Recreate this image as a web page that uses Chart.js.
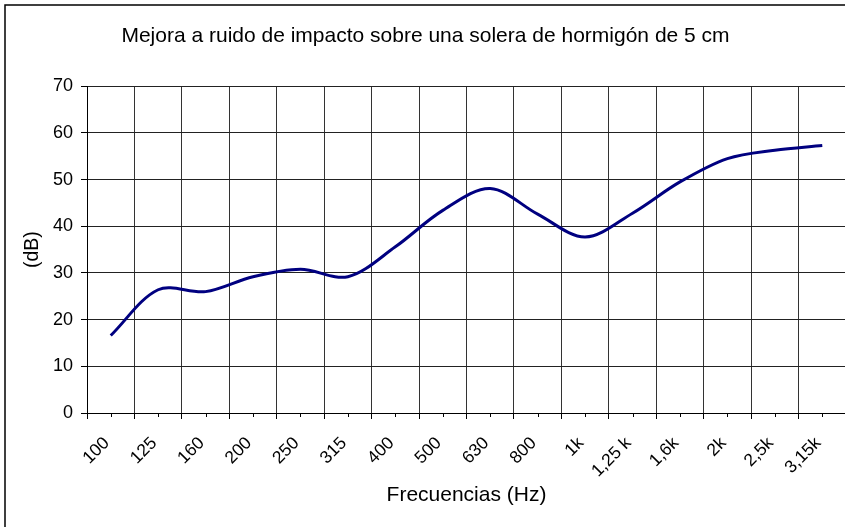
<!DOCTYPE html>
<html>
<head>
<meta charset="utf-8">
<script src="https://cdn.jsdelivr.net/npm/chart.js@4.4.1/dist/chart.umd.min.js"></script>
<style>
  html, body { margin: 0; padding: 0; background: #fff; overflow: hidden; }
  canvas { display: block; }
</style>
</head>
<body>
<canvas id="c" width="900" height="560"></canvas>
<script>
// Frequency bands (third-octave) and measured improvement in dB
const frequencies = ["100", "125", "160", "200", "250", "315", "400", "500", "630", "800",
  "1k", "1,25 k", "1,6k", "2k", "2,5k", "3,15k"];
const improvement = [16.6, 26.4, 26.0, 29.2, 30.8, 29.2, 35.6, 43.4, 48.1, 42.6,
  37.7, 42.8, 49.5, 54.5, 56.3, 57.3];
const yTicks = [0, 10, 20, 30, 40, 50, 60, 70];

const font = "'Liberation Sans', Arial, sans-serif";

// outer frame like the Excel chart area
const frame = {
  id: "frame",
  afterDraw(chart) {
    const ctx = chart.ctx;
    ctx.save();
    ctx.strokeStyle = "#000";
    ctx.lineWidth = 1.5;
    ctx.strokeRect(5, 5, 2000, 2000);
    ctx.restore();
  }
};

// small ticks at the middle of each category
const minorTicks = {
  id: "minorTicks",
  afterDraw(chart) {
    const x = chart.scales.x;
    const ctx = chart.ctx;
    ctx.save();
    ctx.strokeStyle = "#000";
    ctx.lineWidth = 1;
    ctx.beginPath();
    frequencies.forEach((f, i) => {
      const px = Math.round(x.getPixelForValue(i)) + 0.5;
      ctx.moveTo(px, chart.chartArea.bottom);
      ctx.lineTo(px, chart.chartArea.bottom + 4);
    });
    ctx.stroke();
    ctx.restore();
  }
};

new Chart(document.getElementById("c"), {
  type: "line",
  data: {
    labels: frequencies,
    datasets: [{
      data: improvement,
      borderColor: "#000080",
      borderWidth: 3,
      pointRadius: 0,
      tension: 0.33,
      fill: false
    }]
  },
  options: {
    responsive: false,
    devicePixelRatio: 1,
    animation: false,
    layout: { padding: { left: 5, right: 54, top: 0, bottom: 0 } },
    plugins: {
      legend: { display: false },
      tooltip: { enabled: false },
      title: {
        display: true,
        text: "Mejora a ruido de impacto sobre una solera de hormigón de 5 cm",
        color: "#000",
        font: { family: font, size: 21, weight: "normal" },
        padding: { top: 24, bottom: 37 }
      }
    },
    scales: {
      x: {
        offset: true,
        grid: { offset: true, color: "#333", tickLength: 6, tickColor: "#000" },
        border: { color: "#000", width: 1 },
        ticks: {
          color: "#000",
          font: { family: font, size: 17.5 },
          minRotation: 45,
          maxRotation: 45,
          autoSkip: false,
          padding: 14,
          labelOffset: -4
        },
        title: {
          display: true,
          text: "Frecuencias (Hz)",
          color: "#000",
          font: { family: font, size: 21 },
          padding: { top: 0, bottom: 52 }
        },
        afterFit(scale) { scale.height = 147; }
      },
      y: {
        min: 0,
        max: 70,
        afterBuildTicks(scale) { scale.ticks = yTicks.map(v => ({ value: v })); },
        grid: { color: "#222", tickLength: 6, tickColor: "#000" },
        border: { color: "#000", width: 1 },
        ticks: {
          color: "#000",
          font: { family: font, size: 18 },
          padding: 8
        },
        title: {
          display: true,
          text: "(dB)",
          color: "#000",
          font: { family: font, size: 19.5 },
          padding: { top: 16, bottom: 0 }
        },
        afterFit(scale) { scale.width = 82; }
      }
    }
  },
  plugins: [frame, minorTicks]
});
</script>
</body>
</html>
